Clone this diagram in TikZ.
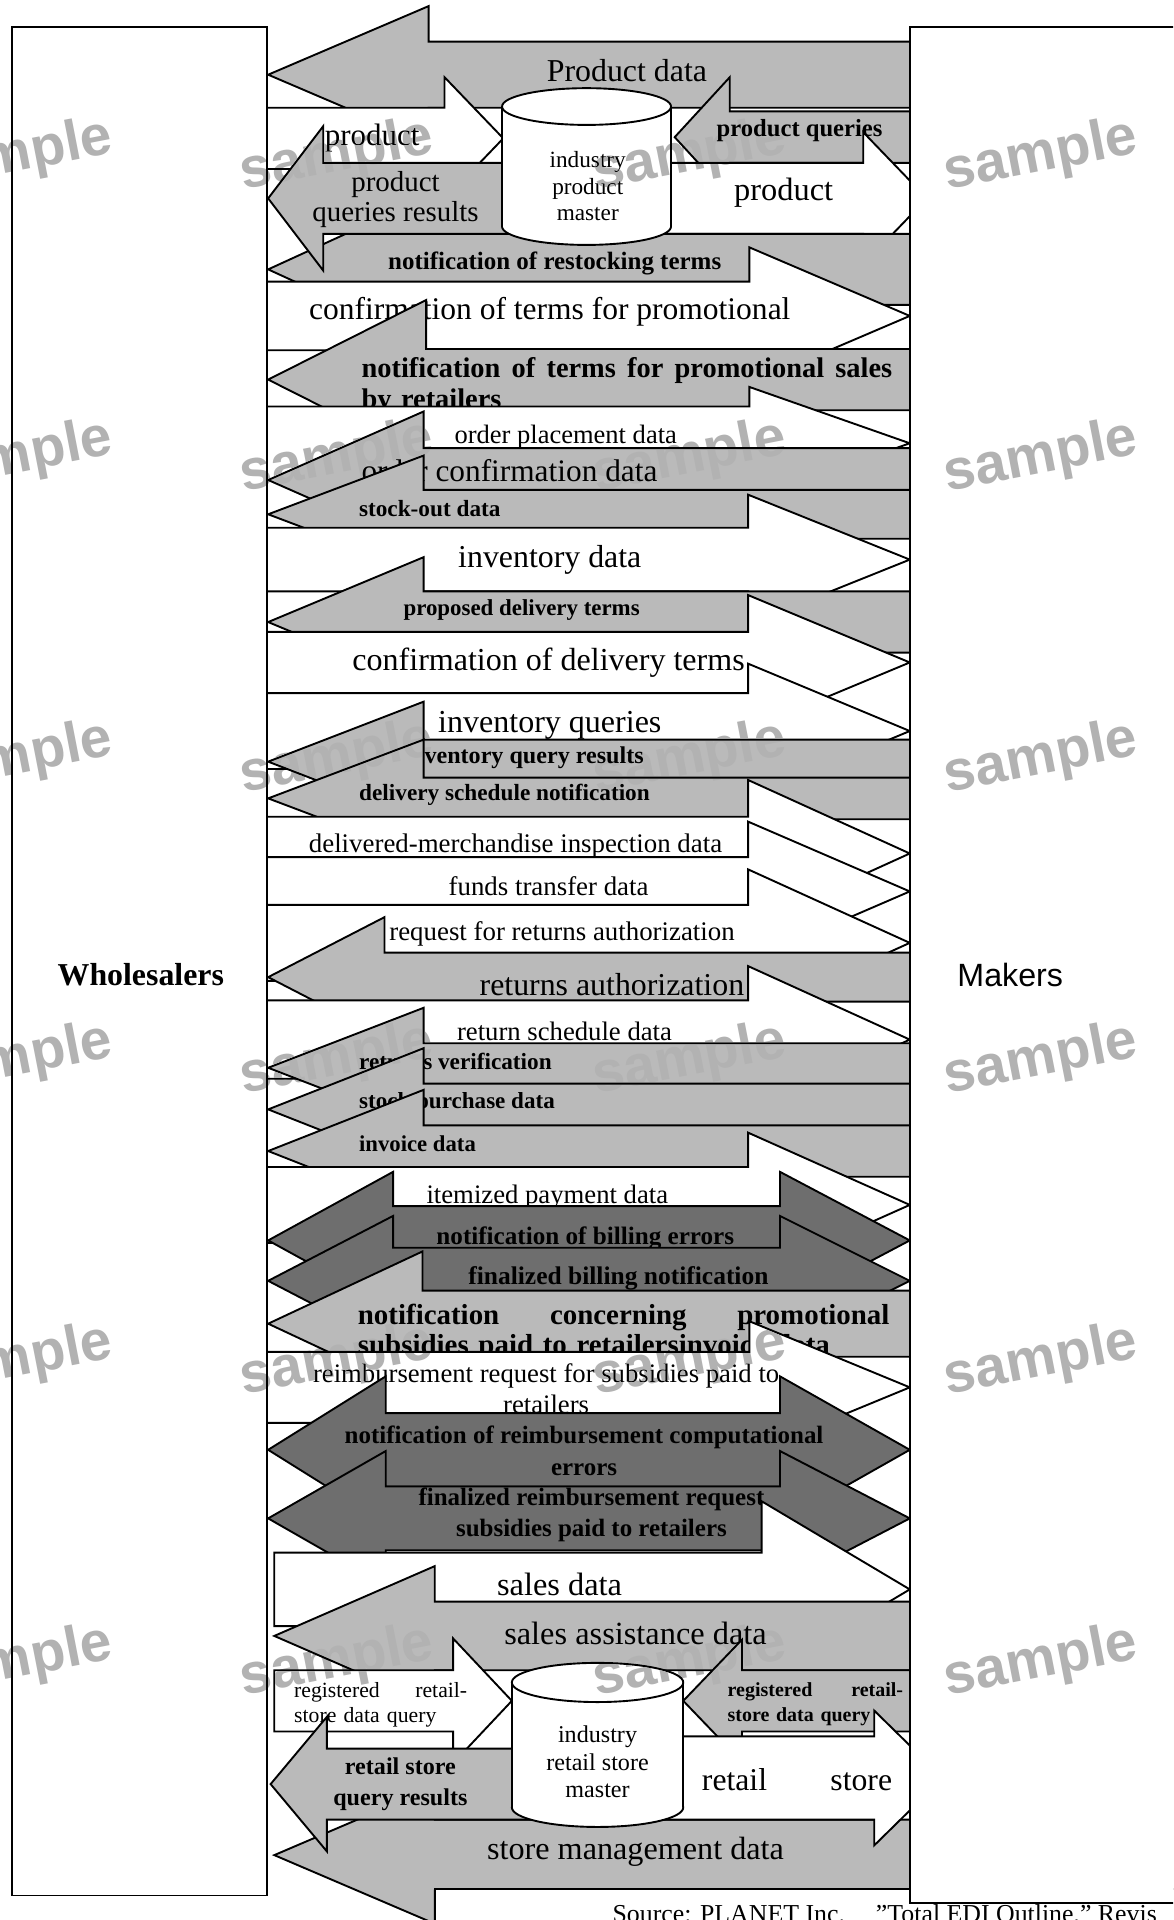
\documentclass[tikz,border=0pt]{standalone}
\usepackage{fontspec}
\setmainfont{Liberation Serif}
\newfontfamily\makersfont{Liberation Sans}

% block arrow: style, tip x, mid y, head x, head half, shaft half, tail x
\newcommand{\flow}[7]{%
  \draw[#1] (#2,#3) -- (#4,{#3-#5}) -- (#4,{#3-#6}) -- (#7,{#3-#6})
    -- (#7,{#3+#6}) -- (#4,{#3+#6}) -- (#4,{#3+#5}) -- cycle;}
% double arrow: style, left tip, left head, right head, right tip, mid y, head half, shaft half
\newcommand{\twoway}[8]{%
  \draw[#1] (#2,#6) -- (#3,{#6-#7}) -- (#3,{#6-#8}) -- (#4,{#6-#8})
    -- (#4,{#6-#7}) -- (#5,#6) -- (#4,{#6+#7}) -- (#4,{#6+#8})
    -- (#3,{#6+#8}) -- (#3,{#6+#7}) -- cycle;}
% database drum: left, right, top, bottom, cap height
\newcommand{\drum}[5]{%
  \draw[whiteflow] ({(#1+#2)/2},{#4-#5}) ellipse [x radius={(#2-#1)/2}, y radius=#5];
  \fill[white] (#1,{#3+#5}) rectangle (#2,{#4-#5});
  \draw[rim] (#1,{#3+#5}) -- (#1,{#4-#5}) (#2,{#3+#5}) -- (#2,{#4-#5});
  \draw[whiteflow] ({(#1+#2)/2},{#3+#5}) ellipse [x radius={(#2-#1)/2}, y radius=#5];}
\newcommand{\fsz}[2]{\fontsize{#1}{#2}\selectfont}

\begin{document}
\begin{tikzpicture}[
  x=0.025cm, y=-0.025cm,
  rim/.style = {draw, line width=1.1pt, line join=miter},
  whiteflow/.style = {rim, fill=white},
  greyflow/.style = {rim, fill=black!27},
  darkflow/.style = {rim, fill=black!57},
  lbl/.style = {inner sep=0pt},
  wmark/.style = {inner sep=0pt, rotate=11, text=black!30, blend mode=darken,
    font=\makersfont\bfseries\fsz{33}{33}}
  ]
  \path[use as bounding box] (0,0) rectangle (958,1568);
  \clip (0,0) rectangle (958,1568);

  % product master
  \flow{greyflow}{219}{61}{350}{56}{27}{760}
  \node[lbl,font=\fsz{18.5}{20}] (pdata) at (512,58) {Product data};
  \flow{whiteflow}{411}{113}{363}{50}{25}{218}
  \node[lbl,font=\fsz{18}{20}] (prodl) at (304,113) {product};
  \flow{greyflow}{551}{112}{596}{49}{21}{760}
  \node[lbl,font=\bfseries\fsz{14.3}{16}] (pquery) at (653,107) {product queries};
  \flow{whiteflow}{757}{162}{705}{54}{29}{480}
  \node[lbl,font=\fsz{18.8}{20}] (prodr) at (640,157) {product};
  \flow{greyflow}{219}{220}{350}{60}{29}{760}
  \node[lbl,font=\bfseries\fsz{14.5}{16}] (restock) at (453,215) {notification of restocking terms};
  \flow{greyflow}{219}{162}{264}{59}{29}{480}
  \node[lbl,align=center,font=\fsz{16.8}{17.8}] (presult) at (323,163) {product\\queries results};
  \drum{410}{548}{72}{200}{15}
  \node[lbl,align=center,font=\fsz{13.5}{15.6}] (pmaster) at (480,152) {industry\\product\\master};

  % promotions
  \flow{whiteflow}{743}{258}{612}{56}{28}{218}
  \node[lbl,font=\fsz{18.3}{20}] (promo) at (449,255) {confirmation of terms for promotional};
  \flow{greyflow}{219}{310}{348}{65}{25}{760}
  \node[lbl,anchor=north west,text width=10.83cm,align=left,font=\bfseries\fsz{16.5}{17.8}] (terms) at (295,292)
    {notification\hfill of\hfill terms\hfill for\hfill promotional\hfill sales\\by retailers};

  % orders
  \flow{whiteflow}{743}{362}{612}{46}{30}{218}
  \node[lbl,font=\fsz{15.4}{17}] (oplace) at (462,357) {order placement data};
  \flow{greyflow}{219}{392}{346}{56}{26}{760}
  \node[lbl,anchor=west,font=\fsz{18.2}{20}] (oconf) at (295,384) {order confirmation data};
  \flow{greyflow}{219}{420}{346}{48}{20}{760}
  \node[lbl,font=\bfseries\fsz{13.5}{15}] (stockout) at (351,415) {stock-out data};

  % inventory and delivery
  \flow{whiteflow}{743}{457}{611}{53}{26}{218}
  \node[lbl,font=\fsz{18.5}{20}] (invdata) at (449,457) {inventory data};
  \flow{greyflow}{219}{508}{346}{53}{25}{760}
  \node[lbl,font=\bfseries\fsz{13.3}{15}] (propose) at (426,498) {proposed delivery terms};
  \flow{whiteflow}{743}{541}{611}{55}{25}{218}
  \node[lbl,font=\fsz{18.6}{20}] (dconf) at (448,541) {confirmation of delivery terms};
  \flow{whiteflow}{743}{597}{611}{55}{31}{218}
  \node[lbl,font=\fsz{18.6}{20}] (invq) at (449,592) {inventory queries};
  \flow{greyflow}{219}{622}{346}{49}{18}{760}
  \node[lbl,font=\bfseries\fsz{14}{16}] (invres) at (428,619) {inventory query results};
  \flow{greyflow}{219}{652}{346}{48}{17}{760}
  \node[lbl,font=\bfseries\fsz{13.5}{15}] (dsched) at (412,649) {delivery schedule notification};
  \flow{whiteflow}{743}{697}{611}{60}{30}{218}
  \node[lbl,font=\fsz{15.6}{17}] (inspect) at (421,691) {delivered-merchandise inspection data};
  \flow{whiteflow}{743}{728}{611}{57}{28}{218}
  \node[lbl,font=\fsz{15.6}{17}] (funds) at (448,724) {funds transfer data};

  % returns
  \flow{whiteflow}{743}{770}{611}{60}{31}{218}
  \node[lbl,font=\fsz{15.6}{17}] (retreq) at (459,763) {request for returns authorization};
  \flow{greyflow}{219}{798}{314}{49}{20}{760}
  \node[lbl,anchor=east,font=\fsz{18.5}{20}] (retauth) at (608,804) {returns authorization};
  \flow{whiteflow}{743}{849}{611}{60}{32}{218}
  \node[lbl,font=\fsz{15.5}{17}] (retsched) at (461,842) {return schedule data};
  \flow{greyflow}{219}{872}{346}{49}{20}{760}
  \node[lbl,anchor=west,font=\bfseries\fsz{13.5}{15}] (retver) at (293,867) {returns verification};
  \flow{greyflow}{219}{906}{346}{50}{21}{760}
  \node[lbl,anchor=west,font=\bfseries\fsz{13.4}{15}] (stockp) at (293,901) {stock purchase data};
  \flow{greyflow}{219}{940}{346}{50}{21}{760}
  \node[lbl,anchor=west,font=\bfseries\fsz{13.2}{15}] (invoice) at (293,934) {invoice data};

  % billing
  \flow{whiteflow}{743}{984}{611}{59}{31}{218}
  \node[lbl,font=\fsz{15.5}{17}] (itemized) at (447,978) {itemized payment data};
  \twoway{darkflow}{219}{321}{637}{743}{1013}{56}{28}
  \node[lbl,font=\bfseries\fsz{14.6}{16}] (billerr) at (478,1011) {notification of billing errors};
  \twoway{darkflow}{219}{321}{637}{743}{1046}{53}{27}
  \node[lbl,font=\bfseries\fsz{14.8}{16}] (billfin) at (505,1044) {finalized billing notification};
  \flow{greyflow}{219}{1081}{345}{59}{27}{760}
  \node[lbl,anchor=north west,text width=10.85cm,align=left,font=\bfseries\fsz{16.8}{17.1}] (subsidy) at (292,1065)
    {notification\hfill concerning\hfill promotional\\subsidies paid to retailersinvoice data};

  % reimbursement
  \flow{whiteflow}{743}{1133}{612}{54}{29}{218}
  \node[lbl,align=center,font=\fsz{15.5}{17.8}] (reimreq) at (446,1134)
    {reimbursement request for subsidies paid to\\retailers};
  \twoway{darkflow}{219}{315}{637}{743}{1184}{60}{30}
  \node[lbl,align=center,font=\bfseries\fsz{14.5}{18.5}] (reimerr) at (477,1185)
    {notification of reimbursement computational\\errors};
  \twoway{darkflow}{219}{315}{637}{743}{1240}{55}{26}
  \node[lbl,align=center,font=\bfseries\fsz{14.5}{17.8}] (reimfin) at (483,1237)
    {finalized reimbursement request\\subsidies paid to retailers};

  % sales and stores
  \flow{whiteflow}{743}{1298}{622}{72}{30}{224}
  \node[lbl,font=\fsz{18.8}{20}] (sales) at (457,1294) {sales data};
  \flow{greyflow}{224}{1336}{355}{57}{28}{760}
  \node[lbl,font=\fsz{18.8}{20}] (assist) at (519,1334) {sales assistance data};
  \flow{whiteflow}{418}{1389}{370}{51}{25}{224}
  \node[lbl,anchor=north west,text width=3.53cm,align=left,font=\fsz{12.6}{14.2}] (regl) at (240,1374)
    {registered\hfill retail-\\store data query};
  \flow{greyflow}{558}{1389}{606}{50}{25}{760}
  \node[lbl,anchor=north west,text width=3.58cm,align=left,font=\bfseries\fsz{11.6}{14.2}] (regr) at (594,1374)
    {registered\hfill retail-\\store data query};
  \flow{greyflow}{224}{1515}{355}{56}{29}{760}
  \node[lbl,font=\fsz{18.7}{20}] (storemgmt) at (519,1512) {store management data};
  \flow{greyflow}{221}{1457}{267}{55}{29}{490}
  \node[lbl,align=center,font=\bfseries\fsz{14}{17.8}] (storeres) at (327,1457) {retail store\\query results};
  \flow{whiteflow}{770}{1452}{714}{55}{34}{500}
  \node[lbl,anchor=west,text width=3.88cm,align=left,font=\fsz{18.4}{20}] (storer) at (573,1453) {retail\hfill store};
  \drum{418}{558}{1358}{1492}{16}
  \node[lbl,align=center,font=\fsz{14}{16}] (smaster) at (488,1439) {industry\\retail store\\master};

  % parties and source
  \draw[rim,fill=white] (355,1543) rectangle (990,1600);
  \draw[rim,fill=white] (743,22) rectangle (990,1554);
  \draw[rim,fill=white] (10,22) rectangle (218,1548);
  \node[lbl,font=\bfseries\fsz{18.5}{20}] (whole) at (115,796) {Wholesalers};
  \node[lbl,font=\makersfont\fsz{18.7}{20}] (makers) at (825,796) {Makers};
  \node[lbl,anchor=base west,font=\fsz{15}{17}] (source) at (500,1570)
    {Source: PLANET Inc.\hspace{18pt}\symbol{34}Total EDI Outline,\symbol{34} Revis};

  \foreach \wx in {13,275,563,850}
    \foreach \wy in {128,374,620,866,1112,1358}
      \node[wmark] (wm\wx\wy) at (\wx,\wy) {sample};
\end{tikzpicture}
\end{document}
